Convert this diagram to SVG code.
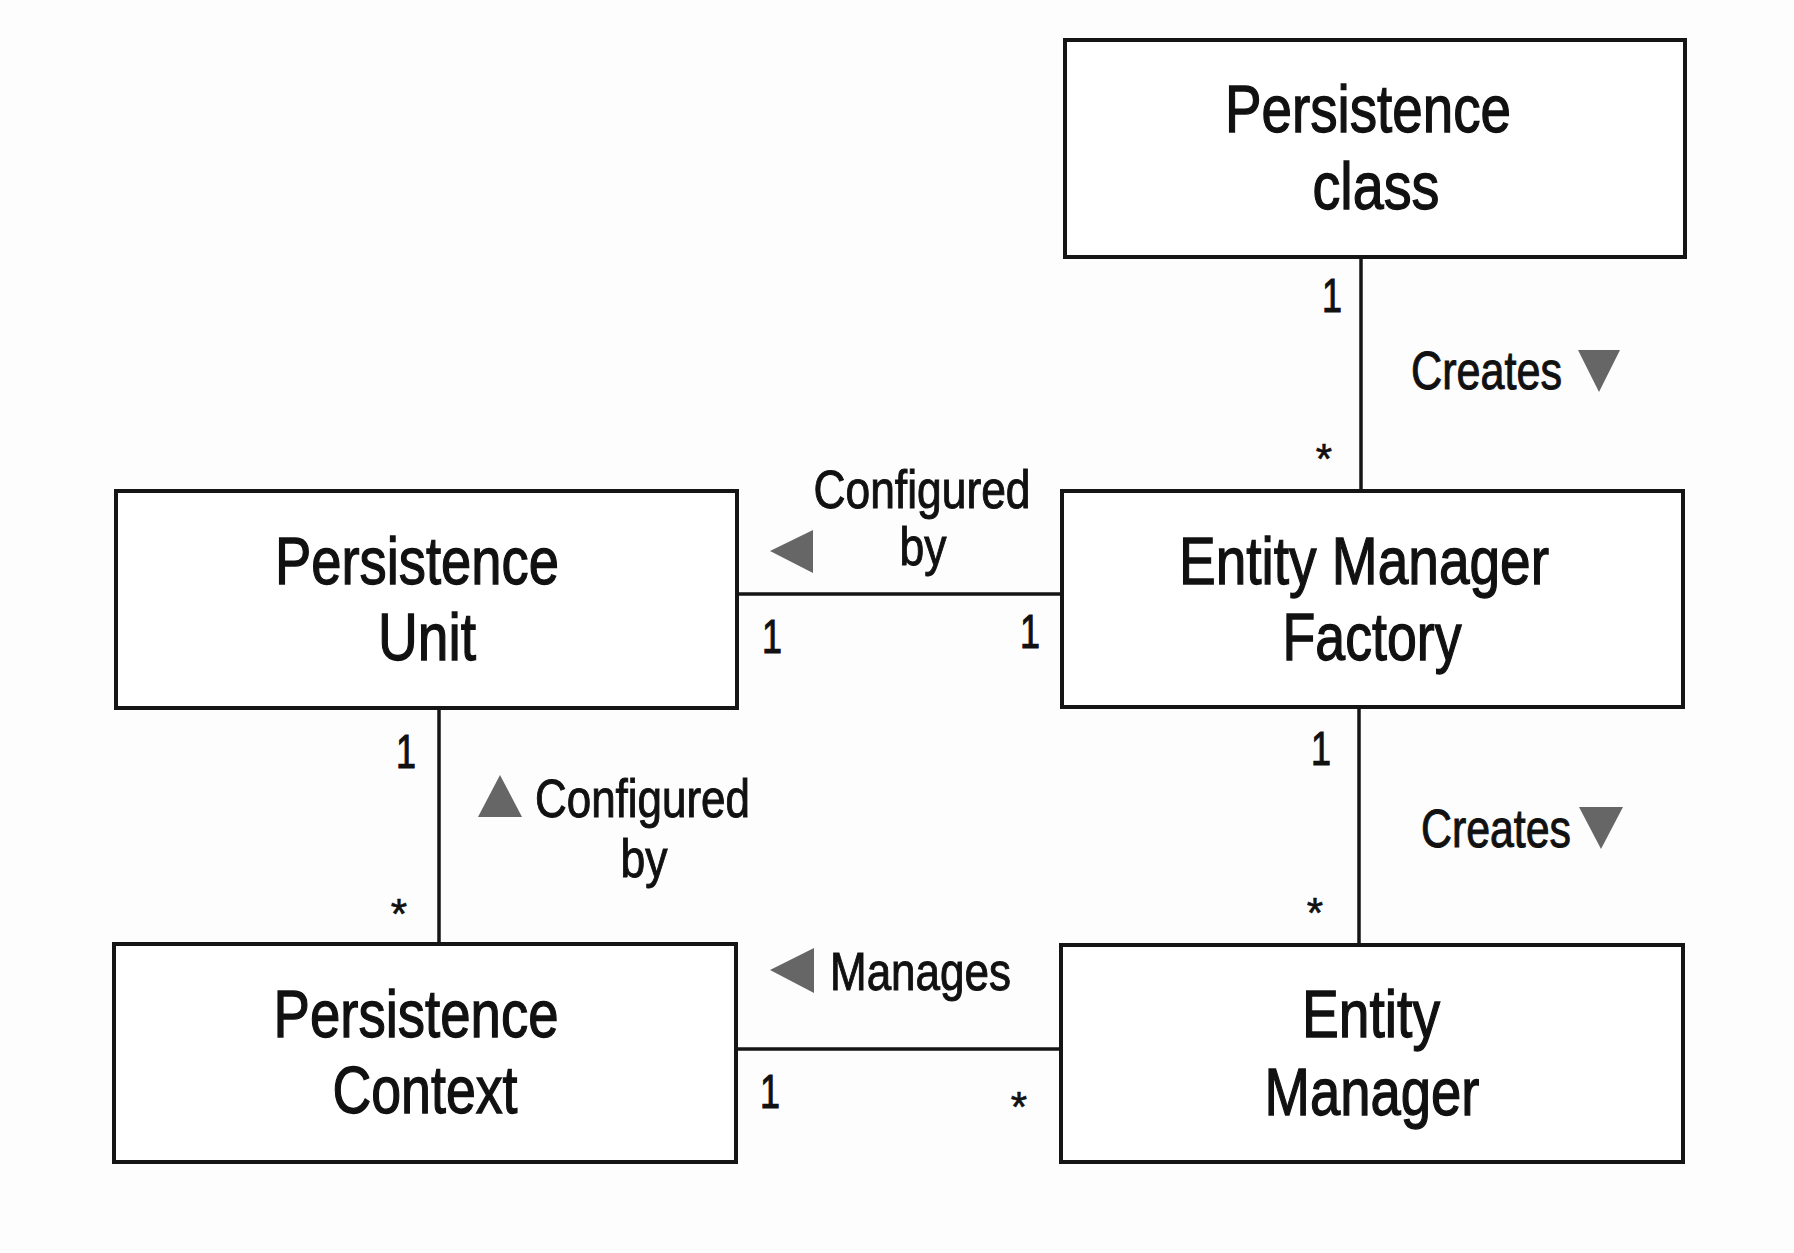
<svg xmlns="http://www.w3.org/2000/svg" width="1794" height="1253" viewBox="0 0 1794 1253">
<style>
.box{fill:#fff;stroke:#151515;stroke-width:4}
.ln{stroke:#151515;stroke-width:3.5;fill:none}
.nt{font-family:"Liberation Sans",Arial,sans-serif;font-size:66px;fill:#111;stroke:#111;stroke-width:1.3;text-anchor:middle}
.et{font-family:"Liberation Sans",Arial,sans-serif;font-size:53px;fill:#111;stroke:#111;stroke-width:1}
.mu{font-family:"Liberation Sans",Arial,sans-serif;font-size:48px;fill:#111;stroke:#111;stroke-width:1.1;text-anchor:middle}
.st{font-family:"Liberation Sans",Arial,sans-serif;font-size:42px;fill:#111;stroke:#111;stroke-width:0.6;text-anchor:middle}
.tri{fill:#666}
</style>
<rect width="1794" height="1253" fill="#fdfdfd"/>
<g id="connectors">
<line class="ln" x1="1361" y1="257" x2="1361" y2="491"/>
<line class="ln" x1="738" y1="594" x2="1062" y2="594"/>
<line class="ln" x1="439" y1="708" x2="439" y2="944"/>
<line class="ln" x1="1359" y1="708" x2="1359" y2="944"/>
<line class="ln" x1="736" y1="1049" x2="1061" y2="1049"/>
<g id="lbl-creates1">
<text class="et" x="1411" y="389" textLength="151" lengthAdjust="spacingAndGlyphs">Creates</text>
<polygon class="tri" points="1578,350 1620,350 1599,392"/>
<text class="mu" x="1332" y="312" textLength="20" lengthAdjust="spacingAndGlyphs">1</text>
<text class="st" x="1324" y="473">*</text>
</g>
<g id="lbl-config1">
<text class="et" x="922" y="508" text-anchor="middle" textLength="217" lengthAdjust="spacingAndGlyphs">Configured</text>
<text class="et" x="923" y="565" text-anchor="middle" textLength="47" lengthAdjust="spacingAndGlyphs">by</text>
<polygon class="tri" points="770,551 813,530 813,573"/>
<text class="mu" x="772" y="653" textLength="20" lengthAdjust="spacingAndGlyphs">1</text>
<text class="mu" x="1030" y="648" textLength="20" lengthAdjust="spacingAndGlyphs">1</text>
</g>
<g id="lbl-config2">
<polygon class="tri" points="500,775 522,817 478,817"/>
<text class="et" x="535" y="817" textLength="215" lengthAdjust="spacingAndGlyphs">Configured</text>
<text class="et" x="644" y="877" text-anchor="middle" textLength="47" lengthAdjust="spacingAndGlyphs">by</text>
<text class="mu" x="406" y="768" textLength="20" lengthAdjust="spacingAndGlyphs">1</text>
<text class="st" x="399" y="928">*</text>
</g>
<g id="lbl-creates2">
<text class="et" x="1421" y="847" textLength="150" lengthAdjust="spacingAndGlyphs">Creates</text>
<polygon class="tri" points="1579,807 1623,807 1601,849"/>
<text class="mu" x="1321" y="765" textLength="20" lengthAdjust="spacingAndGlyphs">1</text>
<text class="st" x="1315" y="927">*</text>
</g>
<g id="lbl-manages">
<polygon class="tri" points="770,970 814,948 814,993"/>
<text class="et" x="830" y="990" textLength="181" lengthAdjust="spacingAndGlyphs">Manages</text>
<text class="mu" x="770" y="1108" textLength="20" lengthAdjust="spacingAndGlyphs">1</text>
<text class="st" x="1019" y="1121">*</text>
</g>
</g>
<g id="persistence-class">
<rect class="box" x="1065" y="40" width="620" height="217"/>
<text class="nt" x="1368" y="132" textLength="286" lengthAdjust="spacingAndGlyphs">Persistence</text>
<text class="nt" x="1376" y="209" textLength="127" lengthAdjust="spacingAndGlyphs">class</text>
</g>
<g id="entity-manager-factory">
<rect class="box" x="1062" y="491" width="621" height="216"/>
<text class="nt" x="1364" y="584" textLength="370" lengthAdjust="spacingAndGlyphs">Entity Manager</text>
<text class="nt" x="1372" y="660" textLength="179" lengthAdjust="spacingAndGlyphs">Factory</text>
</g>
<g id="persistence-unit">
<rect class="box" x="116" y="491" width="621" height="217"/>
<text class="nt" x="417" y="584" textLength="284" lengthAdjust="spacingAndGlyphs">Persistence</text>
<text class="nt" x="427" y="660" textLength="98" lengthAdjust="spacingAndGlyphs">Unit</text>
</g>
<g id="persistence-context">
<rect class="box" x="114" y="944" width="622" height="218"/>
<text class="nt" x="416" y="1037" textLength="285" lengthAdjust="spacingAndGlyphs">Persistence</text>
<text class="nt" x="425" y="1113" textLength="185" lengthAdjust="spacingAndGlyphs">Context</text>
</g>
<g id="entity-manager">
<rect class="box" x="1061" y="945" width="622" height="217"/>
<text class="nt" x="1371" y="1037" textLength="138" lengthAdjust="spacingAndGlyphs">Entity</text>
<text class="nt" x="1372" y="1115" textLength="215" lengthAdjust="spacingAndGlyphs">Manager</text>
</g>
</svg>
